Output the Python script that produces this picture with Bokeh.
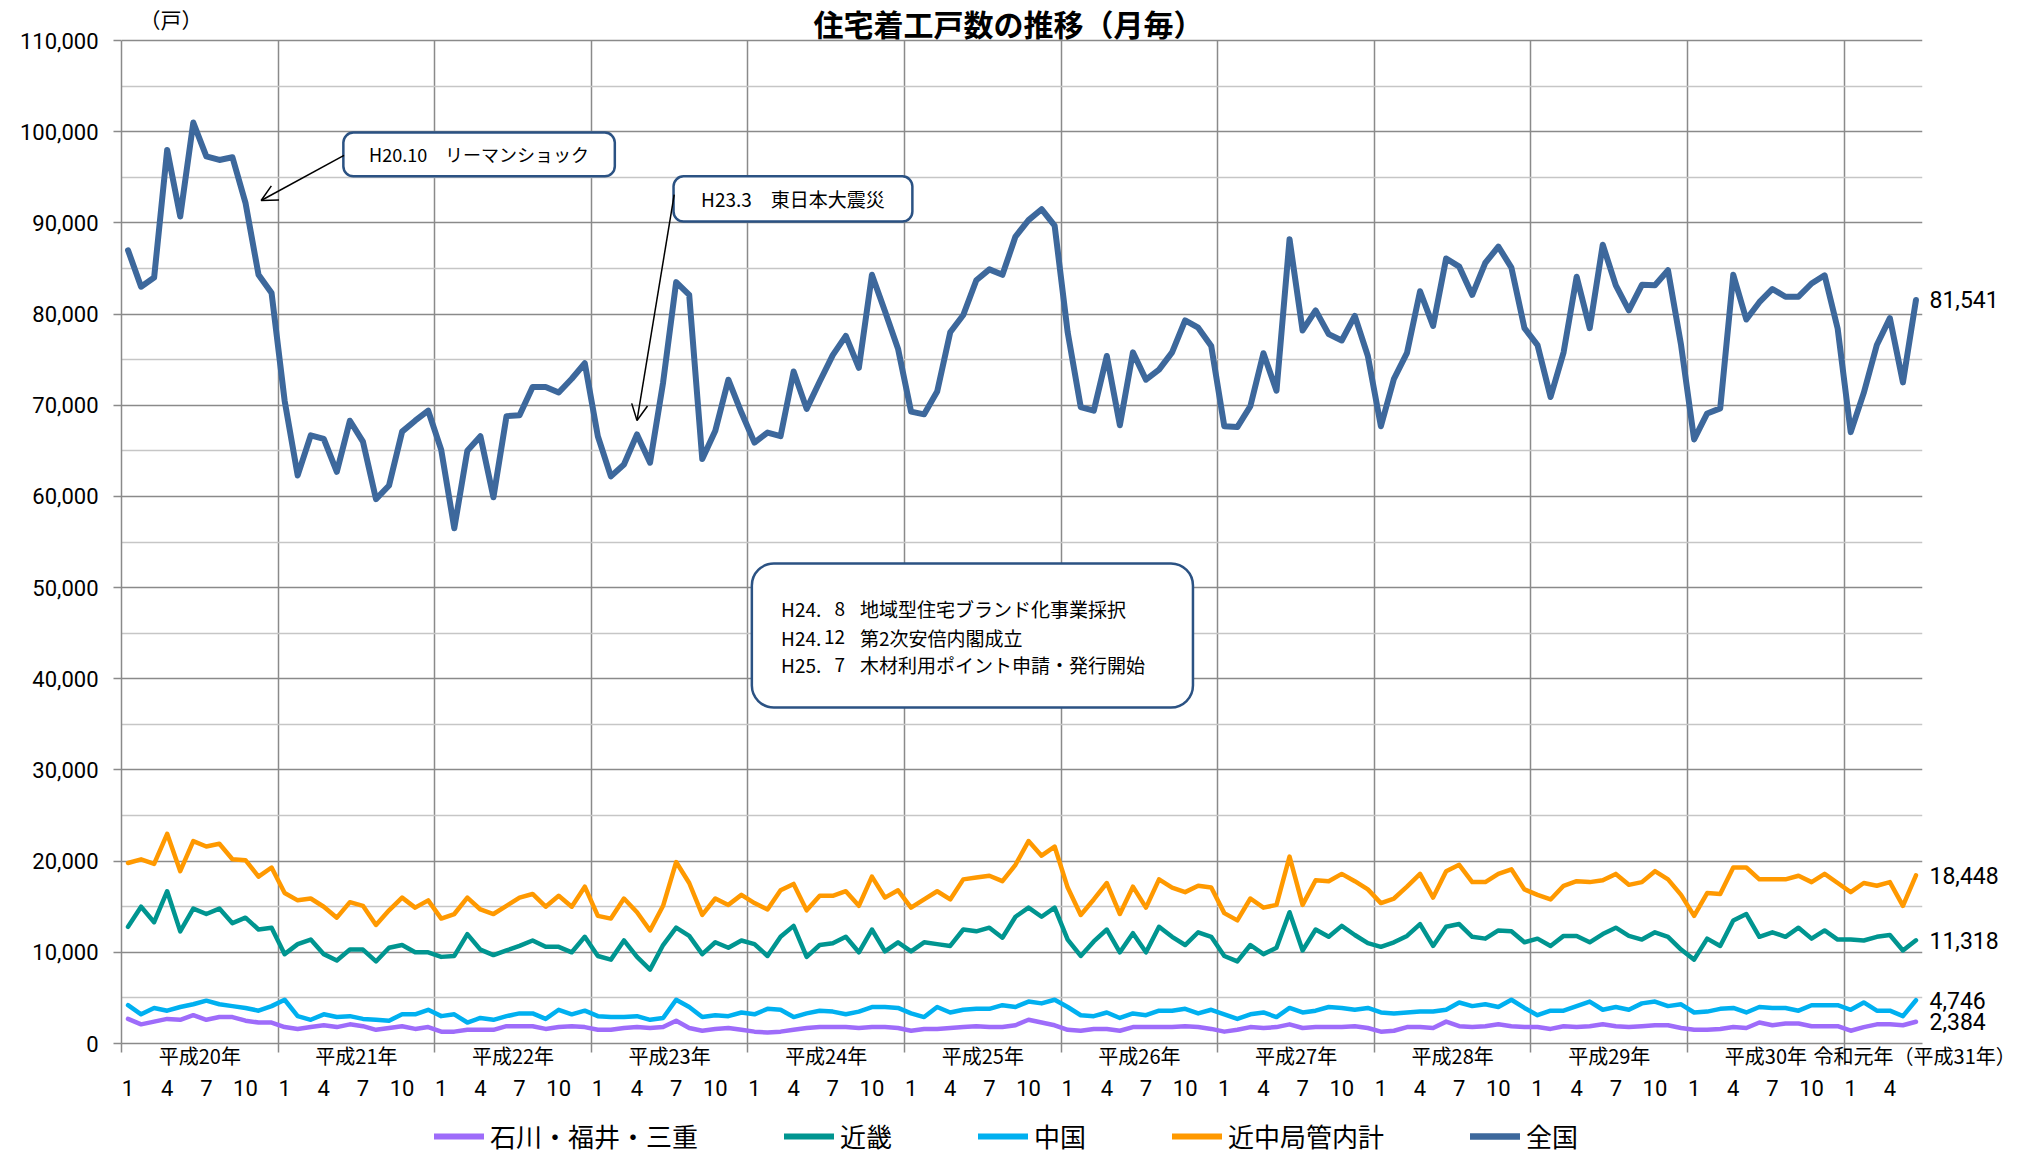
from bokeh.plotting import figure
from bokeh.layouts import column
from bokeh.models import (Range1d, FixedTicker, LinearAxis, NumeralTickFormatter, Label,
                          BoxAnnotation, Arrow, OpenHead, Legend, LegendItem, ColumnDataSource)
from bokeh.embed import file_html
from bokeh.resources import INLINE

# ---------------- data ----------------
years = ["平成20年", "平成21年", "平成22年", "平成23年", "平成24年", "平成25年",
         "平成26年", "平成27年", "平成28年", "平成29年", "平成30年"]
last_year = "令和元年（平成31年）"
tick_months = [1, 4, 7, 10]
months_in_last_year = 6

nation = [87000, 83000, 84000, 98000, 90700, 101000, 97300, 96900, 97200, 92200, 84300, 82300,
          70500, 62300, 66700, 66300, 62700, 68300, 66000, 59700, 61200, 67100, 68300, 69400,
          65100, 56500, 65000, 66600, 59900, 68800, 68900, 72000, 72000, 71400, 72900, 74600,
          66600, 62200, 63500, 66800, 63700, 72500, 83500, 82100, 64100, 67200, 72800, 69200,
          65900, 67000, 66600, 73700, 69600, 72600, 75500, 77600, 74100, 84300, 80300, 76200,
          69300, 69000, 71500, 78000, 79900, 83700, 84900, 84300, 88500, 90300, 91500, 89700,
          78000, 69800, 69400, 75400, 67800, 75800, 72800, 73900, 75800, 79300, 78500, 76500,
          67700, 67600, 69900, 75700, 71600, 88200, 78200, 80400, 77800, 77100, 79800, 75400,
          67700, 72900, 75750, 82500, 78700, 86100, 85200, 82100, 85600, 87400, 85100, 78450,
          76600, 70900, 75800, 84100, 78450, 87600, 83150, 80400, 83200, 83150, 84800, 76600,
          66250, 69100, 69650, 84300, 79400, 81300, 82750, 81900, 81900, 83350, 84250, 78400,
          67050, 71350, 76600, 79550, 72500, 81541]

kinchu = [19800, 20200, 19700, 23000, 18900, 22200, 21600, 21900, 20200, 20100, 18300, 19300,
          16500, 15700, 15900, 15000, 13800, 15500, 15100, 13000, 14600, 16000, 14900, 15700,
          13700, 14200, 16000, 14700, 14200, 15100, 16000, 16400, 15000, 16200, 15000, 17200,
          14000, 13700, 15900, 14400, 12400, 15100, 19900, 17600, 14100, 15900, 15200, 16300,
          15400, 14700, 16800, 17500, 14600, 16200, 16200, 16700, 15100, 18300, 16000, 16800,
          14900, 15800, 16700, 15800, 18000, 18200, 18400, 17800, 19600, 22200, 20600, 21600,
          17100, 14100, 15800, 17600, 14200, 17200, 14900, 18000, 17100, 16600, 17300, 17100,
          14300, 13500, 15900, 14900, 15200, 20500, 15200, 17900, 17800, 18600, 17800, 16900,
          15400, 15900, 17200, 18600, 16000, 18900, 19600, 17700, 17700, 18600, 19100, 16900,
          16300, 15800, 17300, 17800, 17700, 17900, 18600, 17400, 17700, 18900, 18000, 16300,
          14000, 16500, 16400, 19300, 19300, 18000, 18000, 18000, 18400, 17700, 18600, 17600,
          16600, 17600, 17300, 17700, 15100, 18448]

kinki = [12800, 15000, 13300, 16700, 12300, 14800, 14200, 14800, 13200, 13800, 12500, 12700,
         9800, 10900, 11400, 9800, 9100, 10300, 10300, 9000, 10500, 10800, 10000, 10000,
         9500, 9600, 12000, 10300, 9700, 10200, 10700, 11300, 10600, 10600, 10000, 11700,
         9600, 9200, 11300, 9500, 8100, 10800, 12700, 11800, 9800, 11100, 10500, 11300,
         10900, 9600, 11700, 12900, 9500, 10800, 11000, 11700, 10000, 12500, 10100, 11100,
         10100, 11100, 10900, 10700, 12500, 12300, 12700, 11600, 13900, 14900, 13900, 14900,
         11400, 9600, 11200, 12500, 10000, 12100, 10000, 12800, 11700, 10800, 12200, 11700,
         9600, 9000, 10800, 9800, 10500, 14400, 10200, 12500, 11700, 12900, 11900, 11000,
         10600, 11100, 11800, 13100, 10700, 12800, 13100, 11700, 11500, 12400, 12300, 11100,
         11500, 10700, 11800, 11800, 11100, 12000, 12700, 11800, 11400, 12200, 11700, 10300,
         9200, 11500, 10700, 13500, 14200, 11700, 12200, 11700, 12700, 11500, 12400, 11400,
         11400, 11300, 11700, 11900, 10200, 11318]

chugoku = [4200, 3200, 3900, 3600, 4000, 4300, 4700, 4300, 4100, 3900, 3600, 4100,
           4800, 3000, 2600, 3200, 2900, 3000, 2700, 2600, 2500, 3200, 3200, 3700,
           3000, 3200, 2300, 2800, 2600, 3000, 3300, 3300, 2700, 3700, 3200, 3600,
           3000, 2900, 2900, 3000, 2600, 2800, 4800, 4000, 2900, 3100, 3000, 3400,
           3200, 3800, 3700, 2900, 3300, 3600, 3500, 3200, 3500, 4000, 4000, 3900,
           3300, 2900, 4000, 3400, 3700, 3800, 3800, 4200, 4000, 4600, 4400, 4800,
           4000, 3100, 3000, 3400, 2800, 3300, 3100, 3600, 3600, 3800, 3300, 3700,
           3200, 2700, 3200, 3400, 2900, 3900, 3400, 3600, 4000, 3900, 3700, 3900,
           3400, 3300, 3400, 3500, 3500, 3700, 4500, 4100, 4300, 4000, 4800, 3900,
           3100, 3600, 3600, 4100, 4600, 3700, 4000, 3700, 4400, 4600, 4100, 4300,
           3400, 3500, 3800, 3900, 3400, 4000, 3900, 3900, 3600, 4200, 4200, 4200,
           3700, 4500, 3600, 3600, 3000, 4746]

ishikawa = [2700, 2100, 2400, 2700, 2600, 3100, 2600, 2900, 2900, 2500, 2300, 2300,
            1800, 1600, 1800, 2000, 1800, 2100, 1900, 1500, 1700, 1900, 1600, 1800,
            1300, 1300, 1500, 1500, 1500, 1900, 1900, 1900, 1600, 1800, 1900, 1800,
            1500, 1500, 1700, 1800, 1700, 1800, 2500, 1700, 1400, 1600, 1700, 1500,
            1300, 1200, 1300, 1500, 1700, 1800, 1800, 1800, 1700, 1800, 1800, 1700,
            1400, 1600, 1600, 1700, 1800, 1900, 1800, 1800, 2000, 2600, 2300, 2000,
            1500, 1400, 1600, 1600, 1400, 1800, 1800, 1800, 1800, 1900, 1800, 1600,
            1300, 1500, 1800, 1700, 1800, 2100, 1700, 1800, 1800, 1800, 1900, 1700,
            1300, 1400, 1800, 1800, 1700, 2400, 1900, 1800, 1900, 2100, 1900, 1800,
            1800, 1600, 1900, 1800, 1900, 2100, 1900, 1800, 1900, 2000, 2000, 1700,
            1500, 1500, 1600, 1800, 1700, 2300, 2000, 2200, 2200, 1900, 1900, 1900,
            1400, 1800, 2100, 2100, 2000, 2384]

series_names = ["石川・福井・三重", "近畿", "中国", "近中局管内計", "全国"]
series_colors = ["#9E6CFA", "#009590", "#00B0F0", "#FF9900", "#3D689C"]

title_text = "住宅着工戸数の推移（月毎）"
unit_text = "（戸）"
note1 = "H20.10　リーマンショック"
note2 = "H23.3　東日本大震災"
note3_era = ["H24.", "H24.", "H25."]
note3_month = ["8", "12", "7"]
note3_desc = ["地域型住宅ブランド化事業採択", "第2次安倍内閣成立", "木材利用ポイント申請・発行開始"]

# ---------------- layout constants ----------------
JP = "Noto Sans CJK JP"
NUM = "Roboto"
GRID_MAJOR = "#8A8A8A"
GRID_MINOR = "#C6C6C6"
Y_MAX = 110000
FRAME_H = 1043          # frame spans canvas top .. zero line
PLOT_H = 1003           # pixel height of the 0..110000 area
FRAME_W = 1801
y_top = Y_MAX * FRAME_H / PLOT_H
BORDER_L, BORDER_R, BORDER_B = 121, 98, 72
LEG_H = 39


def yv(px_from_top):
    """data value at a given pixel distance from the top of the frame"""
    return y_top * (1 - px_from_top / FRAME_H)


n = len(nation)
xs = [i + 0.5 for i in range(n)]
src = ColumnDataSource(dict(x=xs, nation=nation, kinchu=kinchu, kinki=kinki,
                            chugoku=chugoku, ishikawa=ishikawa))

p = figure(frame_width=FRAME_W, frame_height=FRAME_H, x_range=Range1d(0, n),
           y_range=Range1d(0, y_top), output_backend="svg", toolbar_location=None,
           min_border_left=BORDER_L, min_border_right=BORDER_R, min_border_top=0,
           min_border_bottom=BORDER_B)
p.outline_line_color = None
p.background_fill_color = "white"
p.border_fill_color = "white"

# y axis
yticker = FixedTicker(ticks=list(range(0, Y_MAX + 1, 10000)),
                      minor_ticks=list(range(5000, Y_MAX, 10000)))
ya = p.yaxis[0]
ya.ticker = yticker
ya.bounds = (0, Y_MAX)
ya.formatter = NumeralTickFormatter(format="0,0")
ya.major_tick_out = 8
ya.major_tick_in = 0
ya.minor_tick_out = 0
ya.minor_tick_in = 0
ya.major_tick_line_color = GRID_MAJOR
ya.major_tick_line_width = 1.5
ya.axis_line_color = GRID_MAJOR
ya.axis_line_width = 1.5
ya.major_label_text_font = NUM
ya.major_label_text_font_size = "22px"
ya.major_label_text_color = "black"
ya.major_label_standoff = 15

p.ygrid.ticker = yticker
p.ygrid.bounds = (0, Y_MAX)
p.ygrid.grid_line_color = GRID_MAJOR
p.ygrid.grid_line_width = 1.5
p.ygrid.minor_grid_line_color = GRID_MINOR
p.ygrid.minor_grid_line_width = 1.5

# right axis: latest values
ra = LinearAxis(ticker=FixedTicker(ticks=[nation[-1], kinchu[-1], kinki[-1], chugoku[-1], ishikawa[-1]]),
                formatter=NumeralTickFormatter(format="0,0"))
ra.axis_line_color = None
ra.major_tick_line_color = None
ra.minor_tick_line_color = None
ra.major_tick_out = 0
ra.major_tick_in = 0
ra.major_label_text_font = NUM
ra.major_label_text_font_size = "23px"
ra.major_label_text_color = "black"
ra.major_label_standoff = 7
p.add_layout(ra, "right")

# x axes: year labels (near) and month numbers (below)
boundaries = [12 * k for k in range(len(years) + 1)]
year_centers = [12 * k + 6 for k in range(len(years))]
last_center = 137.4
xa = p.xaxis[0]
xa.ticker = FixedTicker(ticks=year_centers + [last_center], minor_ticks=boundaries)
overrides = {c: t for c, t in zip(year_centers, years)}
overrides[last_center] = last_year
xa.major_label_overrides = overrides
xa.major_tick_out = 0
xa.major_tick_in = 0
xa.major_tick_line_color = None
xa.minor_tick_out = 9
xa.minor_tick_in = 0
xa.minor_tick_line_color = GRID_MAJOR
xa.minor_tick_line_width = 1.5
xa.axis_line_color = GRID_MAJOR
xa.axis_line_width = 1.5
xa.major_label_text_font = JP
xa.major_label_text_font_size = "20px"
xa.major_label_text_color = "black"
xa.major_label_standoff = -12

month_pos, month_lab = [], []
for k in range(len(years)):
    for m in tick_months:
        month_pos.append(12 * k + m - 0.5)
        month_lab.append(str(m))
for m in tick_months:
    if m <= months_in_last_year:
        month_pos.append(12 * len(years) + m - 0.5)
        month_lab.append(str(m))
ma = LinearAxis(ticker=FixedTicker(ticks=month_pos),
                major_label_overrides={pp: ll for pp, ll in zip(month_pos, month_lab)})
ma.axis_line_color = None
ma.major_tick_line_color = None
ma.minor_tick_line_color = None
ma.major_tick_out = 0
ma.major_tick_in = 0
ma.major_label_text_font = NUM
ma.major_label_text_font_size = "22px"
ma.major_label_text_color = "black"
ma.major_label_standoff = 7
p.add_layout(ma, "below")

p.xgrid.ticker = FixedTicker(ticks=boundaries)
p.xgrid.cross_bounds = (0, Y_MAX)
p.xgrid.grid_line_color = GRID_MAJOR
p.xgrid.grid_line_width = 1.5

# ---------------- lines ----------------
cols = ["ishikawa", "kinki", "chugoku", "kinchu", "nation"]
widths = [4.5, 4.5, 4.5, 4.5, 6]
for c, col, w in zip(cols, series_colors, widths):
    p.line("x", c, source=src, line_color=col, line_width=w,
           line_join="round", line_cap="round")

# ---------------- titles ----------------
p.add_layout(Label(x=67.97, y=yv(0.5), text=title_text, text_align="center",
                   text_baseline="top", text_font=JP, text_font_size="30px",
                   text_font_style="bold", text_color="black"))
p.add_layout(Label(x=3.8, y=yv(18), text=unit_text, text_align="center",
                   text_baseline="middle", text_font=JP, text_font_size="21px",
                   text_color="black"))

# ---------------- annotations ----------------
BOX = "#2B5283"
p.add_layout(BoxAnnotation(left=17.0, right=37.8, top=99900, bottom=95100,
                           fill_color="white", fill_alpha=1, line_color=BOX, line_alpha=1,
                           line_width=2.5, border_radius=10))
p.add_layout(Label(x=27.4, y=97500, text=note1, text_align="center", text_baseline="middle",
                   text_font=JP, text_font_size="18px", text_color="black"))
p.add_layout(Arrow(end=OpenHead(size=16, line_width=1.5, line_color="black"),
                   x_start=17.05, y_start=97400, x_end=10.7, y_end=92450,
                   line_width=1.5, line_color="black"))

p.add_layout(BoxAnnotation(left=42.3, right=60.6, top=95100, bottom=90150,
                           fill_color="white", fill_alpha=1, line_color=BOX, line_alpha=1,
                           line_width=2.5, border_radius=10))
p.add_layout(Label(x=51.45, y=92620, text=note2, text_align="center", text_baseline="middle",
                   text_font=JP, text_font_size="19px", text_color="black"))
p.add_layout(Arrow(end=OpenHead(size=16, line_width=1.5, line_color="black"),
                   x_start=42.35, y_start=93100, x_end=39.5, y_end=68330,
                   line_width=1.5, line_color="black"))

p.add_layout(BoxAnnotation(left=48.3, right=82.1, top=52640, bottom=36850,
                           fill_color="white", fill_alpha=1, line_color=BOX, line_alpha=1,
                           line_width=2.5, border_radius=22))
line_y = [47700, 44530, 41560]
for era, mon, desc, yy in zip(note3_era, note3_month, note3_desc, line_y):
    p.add_layout(Label(x=50.54, y=yy, text=era, text_align="left", text_baseline="middle",
                       text_font=JP, text_font_size="19px", text_color="black"))
    p.add_layout(Label(x=55.44, y=yy, text=mon, text_align="right", text_baseline="middle",
                       text_font=JP, text_font_size="19px", text_color="black"))
    p.add_layout(Label(x=56.59, y=yy, text=desc, text_align="left", text_baseline="middle",
                       text_font=JP, text_font_size="19px", text_color="black"))

# ---------------- legend strip (separate figure sharing the x range) ----------------
q = figure(frame_width=FRAME_W, frame_height=LEG_H, x_range=p.x_range, y_range=Range1d(0, 1),
           output_backend="svg", toolbar_location=None, x_axis_location=None,
           y_axis_location=None, min_border_left=BORDER_L, min_border_right=BORDER_R,
           min_border_top=0, min_border_bottom=0)
q.outline_line_color = None
q.xgrid.visible = False
q.ygrid.visible = False
q.background_fill_color = "white"
q.border_fill_color = "white"
proxies = []
for col, w in zip(series_colors, [4.5, 4.5, 4.5, 4.5, 5]):
    # single-point proxy renderers: they only supply the legend swatch style
    proxies.append(q.line(x=[0], y=[-1], line_color=col, line_width=w + 1.5, line_cap="round"))
legend = Legend(items=[LegendItem(label=nm, renderers=[r]) for nm, r in zip(series_names, proxies)],
                orientation="horizontal", location=(313, 0), spacing=86,
                glyph_width=50, glyph_height=20, label_standoff=6, padding=0, margin=0,
                background_fill_alpha=0, border_line_color=None,
                label_text_font=JP, label_text_font_size="26px", label_text_color="black")
q.add_layout(legend)

layout = column(p, q, spacing=0)
open("out.html", "w").write(file_html(layout, INLINE))
